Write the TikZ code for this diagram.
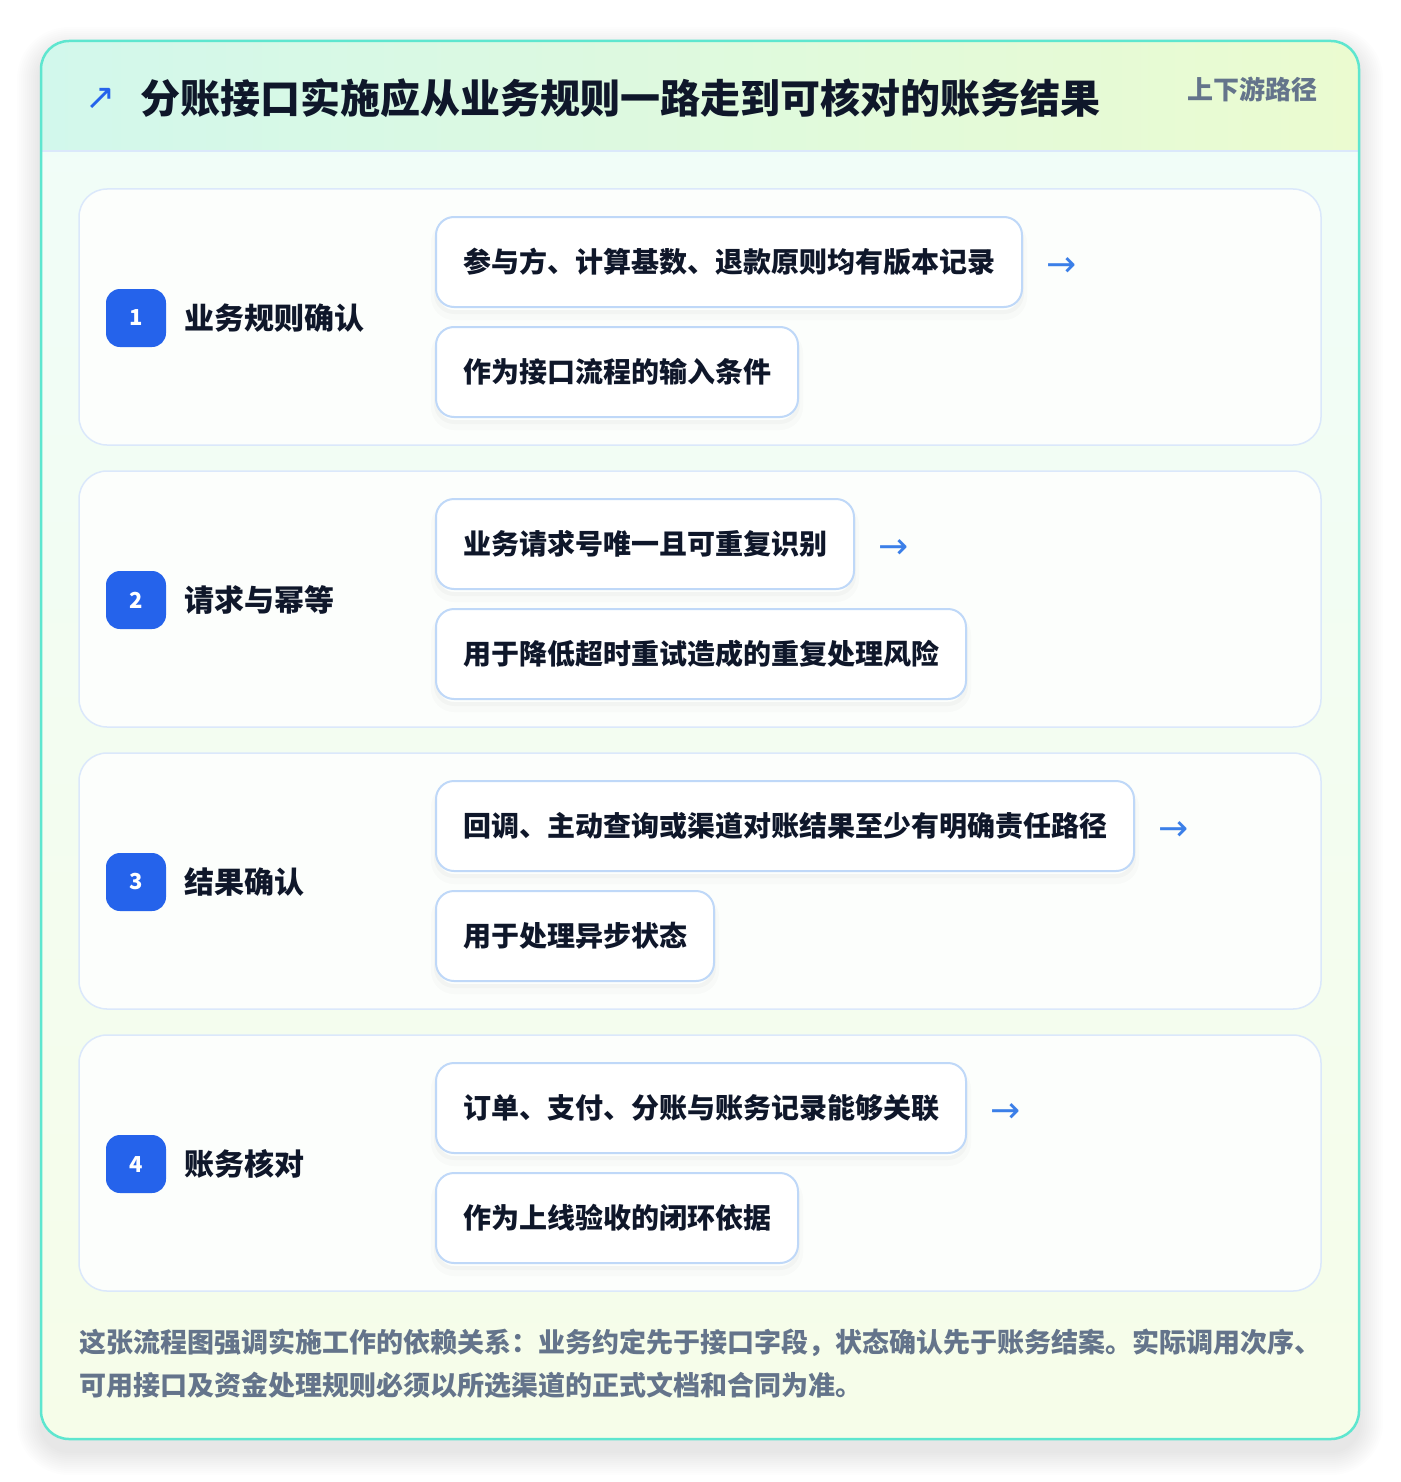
\documentclass[tikz,border=0pt]{standalone}
\usepackage{fontspec}
\setmainfont{Noto Sans CJK SC}
\newfontfamily\symfont{DejaVu Sans}
\usetikzlibrary{positioning}
\definecolor{rim}{HTML}{5EE6CF}
\definecolor{headl}{HTML}{D2F8EC}
\definecolor{headr}{HTML}{EBFBD0}
\definecolor{bodyt}{HTML}{F0FDF9}
\definecolor{bodyb}{HTML}{F6FDE9}
\definecolor{cardline}{HTML}{DBE8FB}
\definecolor{cardfill}{HTML}{FCFEFC}
\definecolor{pillline}{HTML}{BFD8F8}
\definecolor{badgeblue}{HTML}{2563EB}
\definecolor{arrowblue}{HTML}{3B7FE8}
\definecolor{ink}{HTML}{0F172A}
\definecolor{muted}{HTML}{64748B}

\begin{document}
\begin{tikzpicture}[x=1pt,y=-1pt,
  card/.style={draw=cardline, line width=1.5pt, fill=cardfill, rounded corners=28pt, minimum width=1242pt, minimum height=256pt},
  badge/.style={fill=badgeblue, rounded corners=14pt, minimum width=60pt, minimum height=58pt, text=white, font=\bfseries\fontsize{22}{22}\selectfont},
  steptitle/.style={anchor=west, inner sep=0pt, text=ink, font=\bfseries\fontsize{30}{30}\selectfont},
  pill/.style={anchor=west, draw=pillline, line width=2pt, fill=white, rounded corners=18pt, minimum height=90pt, inner xsep=27pt, text=ink, font=\bfseries\fontsize{28}{30}\selectfont,
    preaction={draw=black, line width=10pt, draw opacity=0.015, transform canvas={yshift=-8pt}},
    preaction={draw=black, line width=4pt, draw opacity=0.025, transform canvas={yshift=-5pt}}},
  nextarrow/.style={inner sep=0pt, text=arrowblue, font=\symfont\fontsize{36}{36}\selectfont}
]
\useasboundingbox (0,0) rectangle (1400,1482);
\fill[white] (0,0) rectangle (1400,1482);
% soft shadow of the panel
\foreach \s in {2,4,...,24}
  \fill[black, opacity=0.007, rounded corners={28+\s}] ({41-\s},{51-\s}) rectangle ({1359+\s},{1451+\s});
% outer panel
\fill[bottom color=bodyb, top color=bodyt, rounded corners=28pt] (41,41) rectangle (1359,1439);
\begin{scope}
\clip[rounded corners=28pt] (41,41) rectangle (1359,1439);
\fill[left color=headl, right color=headr] (41,41) rectangle (1359,151);
\end{scope}
\draw[cardline, line width=1.5pt] (42,151) -- (1358,151);
\draw[rim, line width=2.5pt, rounded corners=28pt] (41,41) rectangle (1359,1439);

\node[text=badgeblue, font=\symfont\fontsize{36}{36}\selectfont, inner sep=0pt] (icon) at (101,99) {↗};
\node[anchor=west, inner sep=0pt, text=ink, font=\bfseries\fontsize{40}{40}\selectfont] (title) at (140,98)
  {分账接口实施应从业务规则一路走到可核对的账务结果};
\node[anchor=east, inner sep=0pt, text=muted, font=\bfseries\fontsize{26}{26}\selectfont] (tag) at (1318,89) {上下游路径};

\foreach \i/\stitle/\ta/\tb in {
  1/业务规则确认/参与方、计算基数、退款原则均有版本记录/作为接口流程的输入条件,
  2/请求与幂等/业务请求号唯一且可重复识别/用于降低超时重试造成的重复处理风险,
  3/结果确认/回调、主动查询或渠道对账结果至少有明确责任路径/用于处理异步状态,
  4/账务核对/订单、支付、分账与账务记录能够关联/作为上线验收的闭环依据}{
  \pgfmathtruncatemacro\yy{282*(\i-1)}
  \node[card] (card\i) at (700,{317+\yy}) {};
  \node[badge] (badge\i) at (136,{318+\yy}) {\i};
  \node[steptitle] (stitle\i) at (184,{318+\yy}) {\stitle};
  \node[pill] (pa\i) at (435,{262+\yy}) {\ta};
  \node[pill] (pb\i) at (435,{372+\yy}) {\tb};
  \node[nextarrow, right=23pt of pa\i, yshift=-5pt] (nx\i) {→};
}

\node[anchor=west, inner sep=0pt, align=left, text=muted, font=\bfseries\fontsize{27}{43}\selectfont] (note) at (79,1364)
  {这张流程图强调实施工作的依赖关系：业务约定先于接口字段，状态确认先于账务结案。实际调用次序、\\
   可用接口及资金处理规则必须以所选渠道的正式文档和合同为准。};
\end{tikzpicture}
\end{document}
